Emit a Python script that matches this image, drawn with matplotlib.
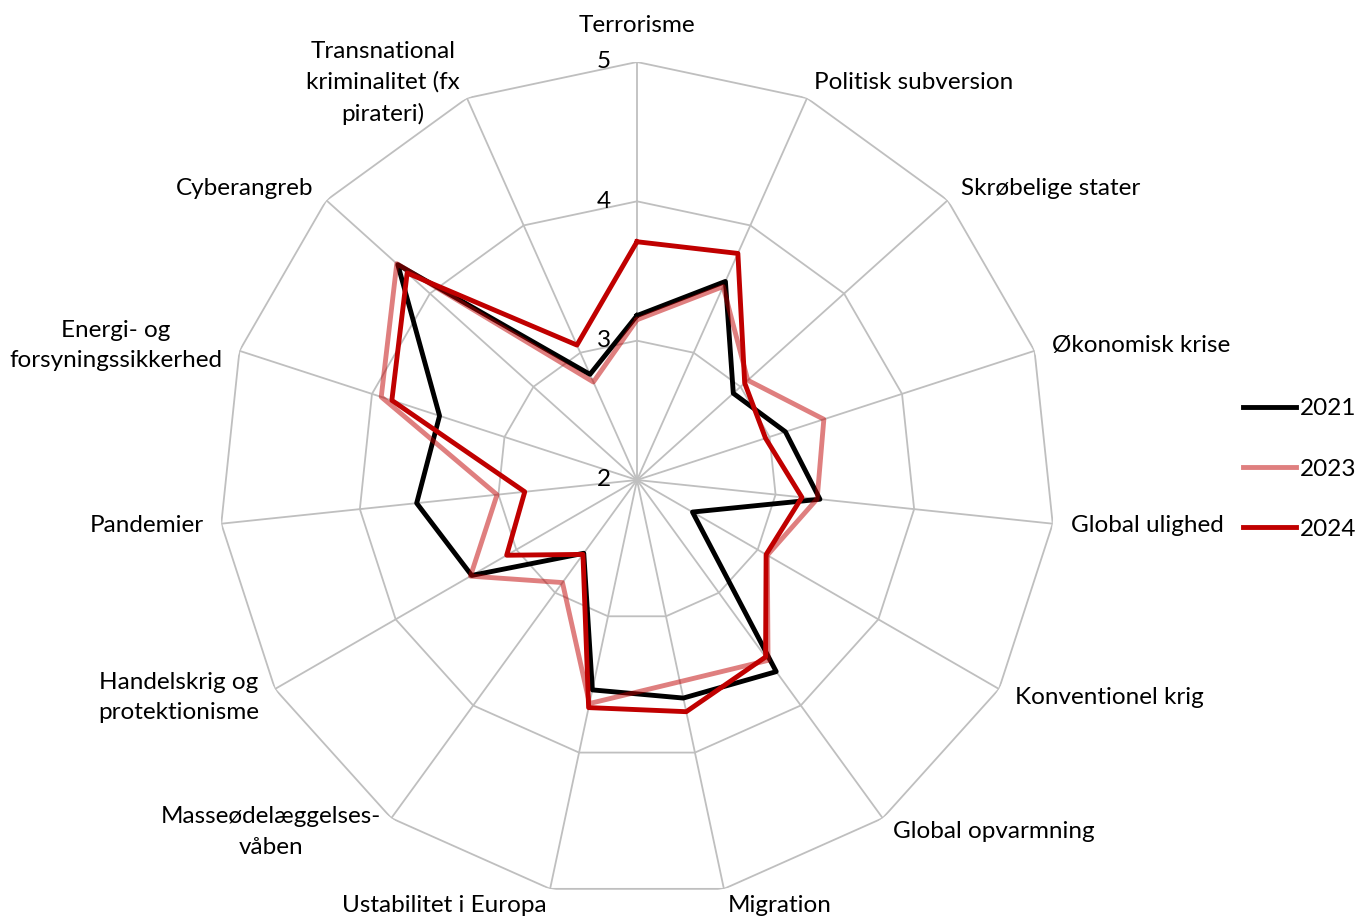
import numpy as np
import matplotlib
matplotlib.use("Agg")
import matplotlib.pyplot as plt

plt.rcParams['font.family'] = ['Lato', 'DejaVu Sans']

categories = ["Terrorisme", "Politisk subversion", "Skrøbelige stater", "Økonomisk krise",
              "Global ulighed", "Konventionel krig", "Global opvarmning", "Migration",
              "Ustabilitet i Europa", "Masseødelæggelses-\nvåben", "Handelskrig og\nprotektionisme",
              "Pandemier", "Energi- og\nforsyningssikkerhed", "Cyberangreb",
              "Transnational\nkriminalitet (fx\npirateri)"]
v2021 = [3.18, 3.56, 2.93, 3.12, 3.32, 2.46, 3.70, 3.60, 3.54, 2.65, 3.37, 3.59, 3.49, 4.31, 2.83]
v2023 = [3.15, 3.52, 3.07, 3.41, 3.30, 3.08, 3.60, 3.48, 3.64, 2.91, 3.38, 3.01, 3.93, 4.32, 2.77]
v2024 = [3.71, 3.78, 3.04, 2.97, 3.19, 3.07, 3.57, 3.70, 3.67, 2.66, 3.08, 2.81, 3.85, 4.22, 3.06]
years = ["2021", "2023", "2024"]
levels = [2, 3, 4, 5]

n = len(categories)
ang = np.arange(n) * 2 * np.pi / n
ang_c = np.append(ang, ang[0])

W, H = 1357, 916
fs = 17.5
fig = plt.figure(figsize=(W / 100, H / 100), dpi=100)
cx, cy, R = 637, 480, 418
ax = fig.add_axes([(cx - R) / W, (H - cy - R) / H, 2 * R / W, 2 * R / H], projection='polar')
ax.set_theta_zero_location('N')
ax.set_theta_direction(-1)
ax.set_ylim(2, 5)
ax.grid(False)
ax.set_xticks([])
ax.set_yticks([])
ax.spines['polar'].set_visible(False)
ax.patch.set_alpha(0)

grid_c = '#BFBFBF'
for a in ang:
    ax.plot([a, a], [2, 5], color=grid_c, lw=1.3, zorder=1)
for lv in levels[1:]:
    ax.plot(ang_c, [lv] * (n + 1), color=grid_c, lw=1.3, zorder=1)

# tick labels on the top spoke
for lv in levels:
    ax.annotate(str(lv), xy=(0, lv), xytext=(-26, 0), textcoords='offset pixels',
                ha='right', va='center', fontsize=fs)

styles = [dict(color='black'), dict(color='#C00000', alpha=0.5), dict(color='#C00000')]
for vals, lab, st in zip([v2021, v2023, v2024], years, styles):
    ax.plot(ang_c, vals + vals[:1], lw=3.5, label=lab, zorder=3, **st)

# category labels
for a, lab in zip(ang, categories):
    s, c = np.sin(a), np.cos(a)
    if abs(s) < 0.05:
        ax.annotate(lab, xy=(a, 5), xytext=(0, 37 * c), textcoords='offset pixels',
                    ha='center', va='center', fontsize=fs)
    else:
        ax.annotate(lab, xy=(a, 5), xytext=(18 * s, 17 * c), textcoords='offset pixels',
                    ha='left' if s > 0 else 'right', va='center', multialignment='center',
                    fontsize=fs, linespacing=1.55)

fig.legend(loc='center left', bbox_to_anchor=(1221 / W, 1 - 469 / H), frameon=False,
           fontsize=fs, handlelength=2.2, handletextpad=0.16, labelspacing=1.62)

fig.savefig('out.png', dpi=100)
